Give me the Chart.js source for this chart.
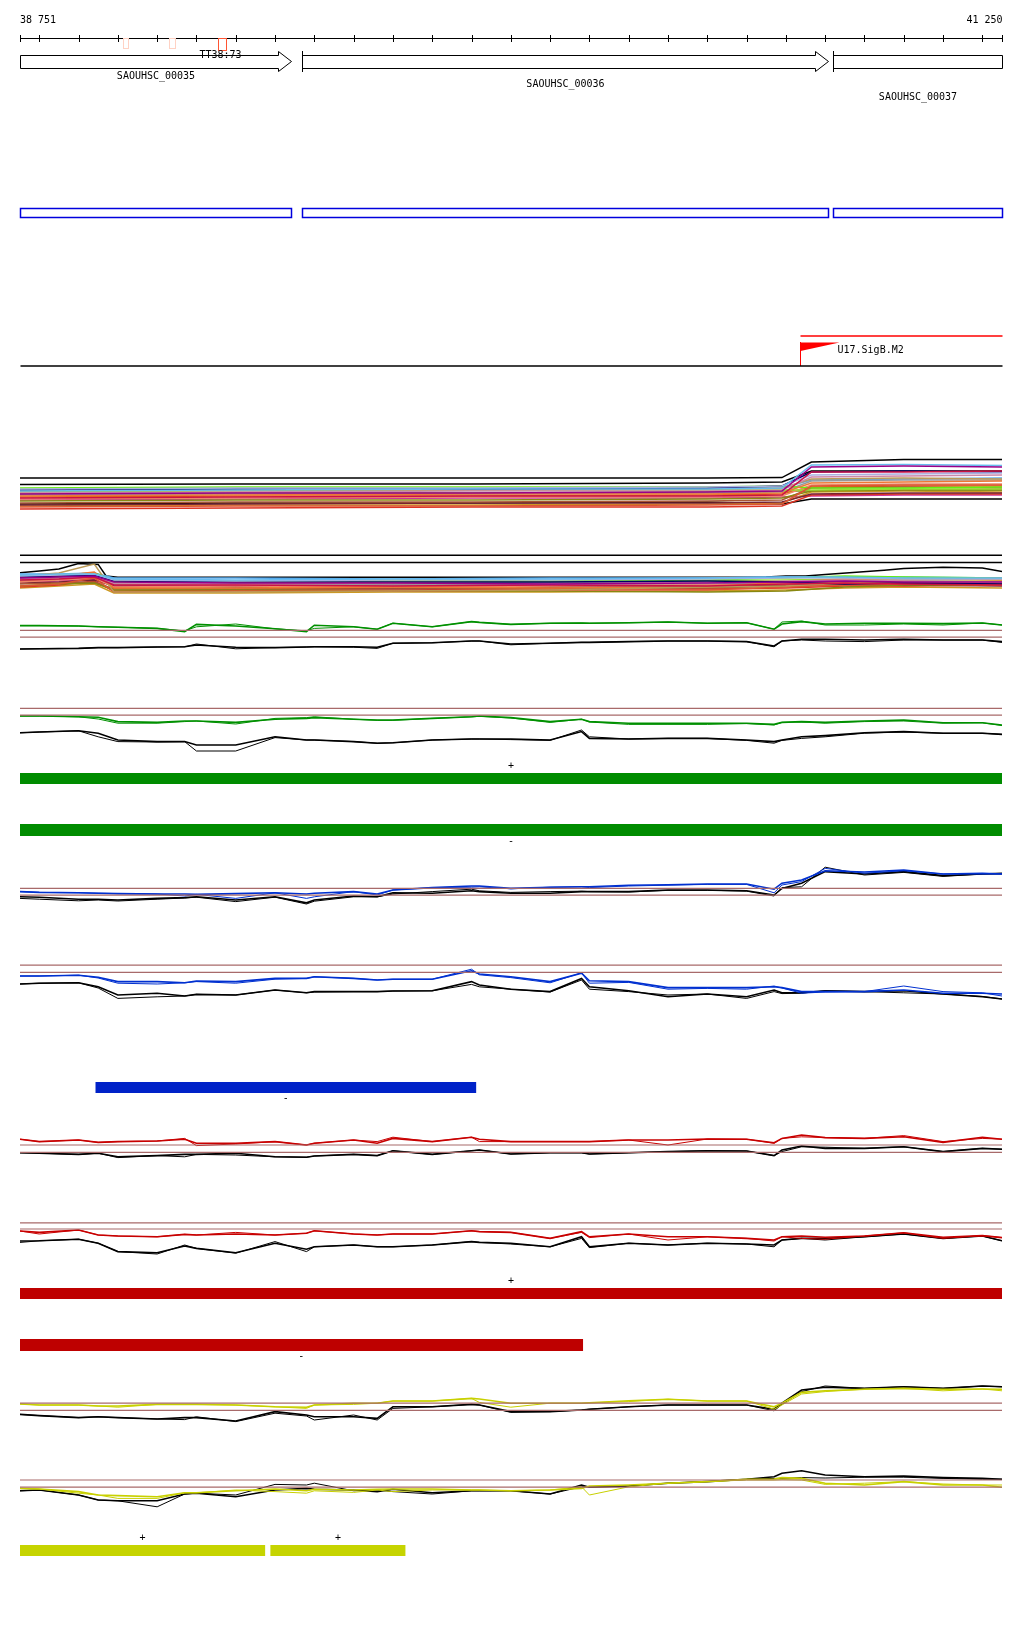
<!DOCTYPE html>
<html>
<head>
<meta charset="utf-8">
<script src="https://cdn.jsdelivr.net/npm/chart.js@4/dist/chart.umd.min.js"></script>
<style>
body{margin:0;background:#fff}
#page{position:relative;width:1024px;height:1640px;overflow:hidden;background:#fff}
canvas{position:absolute;left:0}
</style>
</head>
<body>
<div id="page"></div>
<script>
/* VIEW + FEATURES */

const VIEW_START = 38751;
const VIEW_END = 41250;
const RULER_TICKS = [38751,38800,38900,39000,39100,39200,39300,39400,39500,39600,39700,39800,39900,40000,40100,40200,40300,40400,40500,40600,40700,40800,40900,41000,41100,41200,41250];

const GENE_NAMES = ["SAOUHSC_00035","SAOUHSC_00036","SAOUHSC_00037"];
const GENE_STARTS = [38600, 39468, 40820];
const GENE_ENDS = [39441, 40806, 41500];

const TERM_STARTS = [39013, 39130, 39254];
const TERM_ENDS = [39026, 39145, 39274];
const TERM_NAME = "TT38:73";

const PROMOTER_NAME = "U17.SigB.M2";
const PROMOTER_START = 40736;

const GREEN_PLUS = [[38751, 41250]];
const GREEN_MINUS = [[38751, 41250]];
const BLUE_MINUS = [[38944, 39911]];
const RED_PLUS = [[38751, 41250]];
const RED_MINUS = [[38751, 40183]];
const YELLOW_PLUS = [[38751, 39374], [39389, 39731]];

/* MULTI-SAMPLE TRACKS */

const MULTI_COLORS = ["#990088","#66bbee","#cc1144","#aab0e0","#000066","#cc88aa","#bb9955","#ee7733","#dd5533","#66ee11","#99dd33","#888811","#aa5533","#ee8866","#999999","#772233","#dd3322","#cc9922","#55aaee","#dd6611","#cc3399","#779922"];

const T1_POS = [38751, 39300, 39900, 40500, 40690, 40765, 41000, 41250];
const T1_LINES = [
[5.5,5.75,5.75,6.0,6.25,12.25,12.5,12.25],
[6.25,6.5,6.75,6.75,7.0,12.75,12.9,12.6],
[4.5,4.75,5.0,5.0,5.25,11.0,11.0,11.25],
[6.75,7.0,7.0,7.25,7.5,10.25,10.5,10.75],
[6.5,6.75,6.75,7.0,7.5,11.0,11.25,11.0],
[5.75,6.0,6.25,6.25,6.5,9.75,10.0,10.25],
[6.25,6.5,6.5,6.75,7.0,9.25,9.5,9.25],
[5.0,5.25,5.5,5.5,5.75,8.25,8.5,8.75],
[2.25,2.5,2.5,2.75,3.0,7.5,7.75,7.75],
[7.0,7.25,7.25,7.25,7.5,7.0,7.0,7.25],
[6.0,6.25,6.5,6.5,6.5,6.5,6.75,6.75],
[3.75,4.0,4.0,4.25,4.5,6.25,6.5,6.5],
[3.25,3.5,3.5,3.75,4.0,7.0,7.25,7.0],
[4.25,4.5,4.75,4.75,5.0,7.75,8.0,8.0],
[5.25,5.5,5.5,5.75,6.0,8.75,9.0,9.0],
[2.75,3.0,3.25,3.25,3.5,5.5,5.75,5.75],
[1.75,2.0,2.25,2.25,2.5,5.25,5.5,5.5],
[2.5,2.75,2.75,3.0,3.25,6.0,6.25,6.0],
[6.5,6.6,6.75,6.75,7.0,9.0,9.25,9.5],
[4.75,5.0,5.0,5.25,5.5,7.25,7.5,7.5],
[4.0,4.25,4.5,4.5,4.75,5.0,5.25,5.25],
[5.5,5.75,5.75,6.0,6.25,6.25,6.5,6.5]
];
const T1_BLACK = [
[9.5,9.5,9.5,9.5,9.6,13.5,14.1,14.1],
[7.9,8.0,8.0,8.25,8.5,11.25,11.25,11.25],
[3.0,3.25,3.25,3.5,3.0,4.25,4.25,4.25]
];

const T2_POS = [38751, 38850, 38940, 38990, 39300, 39700, 40100, 40500, 40700, 40850, 41000, 41250];
const T2_LINES = [
[5.5,5.75,6.0,4.5,4.25,4.25,4.0,4.25,4.5,4.75,4.5,4.5],
[6.25,6.5,6.5,5.25,5.0,5.25,5.25,5.5,5.75,5.75,5.5,5.5],
[5.0,5.25,5.75,3.75,3.75,3.5,3.75,3.5,4.0,4.25,4.0,3.75],
[6.0,6.25,6.5,5.0,4.75,5.0,5.0,5.25,5.5,5.5,5.25,5.25],
[5.75,6.0,6.25,4.75,4.5,4.5,4.5,4.75,4.5,4.0,4.25,4.0],
[5.25,5.5,6.0,4.25,4.0,4.25,4.25,4.5,4.75,5.0,4.75,4.5],
[6.0,6.75,9.0,2.0,2.0,2.25,2.5,3.25,3.5,4.25,5.0,5.5],
[5.5,6.0,7.0,3.0,3.0,3.25,3.0,3.25,4.5,5.25,5.25,5.0],
[3.5,4.0,5.5,2.0,2.25,2.25,2.5,2.5,3.25,3.75,4.0,3.75],
[6.0,6.25,6.75,5.0,4.75,5.0,4.75,5.0,5.5,6.0,5.75,5.5],
[5.5,5.75,6.0,4.5,4.25,4.5,4.5,4.75,5.0,5.25,5.25,5.0],
[3.5,4.0,4.25,2.5,2.5,2.25,2.25,2.0,2.25,3.25,3.75,3.75],
[4.0,4.25,4.5,2.75,2.75,2.75,3.0,3.0,3.5,4.0,4.25,4.0],
[4.5,5.0,5.5,3.25,3.5,3.25,3.5,3.75,4.0,4.5,4.5,4.25],
[5.0,5.25,5.5,4.0,4.0,3.75,4.0,4.0,4.25,4.75,4.75,4.5],
[4.25,4.5,5.0,3.5,3.25,3.0,3.25,3.25,3.75,4.0,3.75,3.5],
[3.25,3.75,4.75,2.25,2.5,2.5,2.75,2.75,3.0,3.5,3.5,3.75],
[3.0,3.5,4.0,1.75,1.75,2.0,2.0,2.25,2.5,3.0,3.25,3.0],
[6.5,6.5,6.75,5.5,5.5,5.25,5.5,5.5,5.75,5.75,5.75,5.5],
[4.75,5.25,6.25,3.0,2.75,3.0,3.0,3.0,3.75,4.25,4.5,4.25],
[4.5,4.75,5.25,3.75,3.5,3.75,3.5,3.75,4.0,3.75,3.75,3.75],
[5.25,5.5,5.75,4.25,4.25,4.0,4.25,4.5,4.25,4.5,4.75,4.5]
];
const T2_REF = [11.2, 9.4];
const T2_BLACK_POS = [38751, 38800, 38850, 38900, 38950, 38970, 39000, 39300, 39800, 40300, 40650, 40700, 40750, 40800, 40950, 41000, 41100, 41200, 41250];
const T2_BLACK = [6.8, 7.25, 7.75, 9.1, 8.9, 6.0, 5.7, 5.7, 5.7, 5.7, 5.75, 6.0, 6.0, 6.4, 7.45, 7.9, 8.2, 8.0, 7.1];

/* TWO-SAMPLE TRACKS (shared positions) */

const POS = [38751,38800,38900,38950,39000,39100,39170,39200,39300,39400,39480,39500,39600,39660,39700,39800,39900,39920,40000,40100,40180,40200,40300,40400,40500,40600,40670,40690,40740,40800,40900,41000,41100,41200,41250];

const T3_REF = [6.4, 4.7];
const T3_GREEN_A = [7.6,7.6,7.5,7.3,7.2,6.9,6.1,7.9,7.5,6.8,6.1,7.7,7.3,6.7,8.2,7.3,8.6,8.4,7.9,8.2,8.25,8.2,8.3,8.5,8.2,8.3,6.7,8.0,8.6,8.0,8.2,8.2,8.1,8.25,7.75];
const T3_GREEN_B = [7.6,7.6,7.5,7.3,7.2,6.9,6.3,7.3,8.0,6.8,6.3,6.9,7.3,6.7,8.2,7.3,8.6,8.4,7.9,8.2,8.25,8.2,8.3,8.5,8.2,8.3,6.7,8.5,8.75,7.75,7.75,8.0,7.75,8.25,7.75];
const T3_BLACK_A = [1.75,1.8,1.9,2.1,2.1,2.25,2.3,2.75,2.2,2.1,2.25,2.3,2.3,2.2,3.2,3.3,3.75,3.75,3.0,3.2,3.4,3.4,3.6,3.75,3.75,3.6,2.5,3.75,4.2,4.2,4.0,4.2,4.0,4.0,3.6];
const T3_BLACK_B = [1.75,1.8,1.9,2.1,2.1,2.25,2.3,3.0,1.8,2.1,2.25,2.3,2.2,1.9,3.2,3.3,3.75,3.75,2.8,3.2,3.4,3.4,3.6,3.75,3.75,3.6,2.3,3.75,4.0,3.75,3.6,4.0,4.0,4.0,3.4];

const T4_REF = [12.4, 10.7];
const T4_GREEN_A = [10.5,10.5,10.3,10.2,9.1,8.9,9.25,9.25,8.9,9.7,9.9,10.1,9.7,9.5,9.5,9.9,10.3,10.5,10.1,9.1,9.7,9.1,8.7,8.7,8.7,8.7,8.4,8.9,9.1,8.9,9.25,9.5,8.8,8.8,8.25];
const T4_GREEN_B = [10.5,10.5,10.3,9.75,8.7,8.7,9.1,9.25,8.5,9.9,10.1,10.3,9.7,9.4,9.4,9.9,10.3,10.4,10.0,8.9,9.7,9.0,8.4,8.4,8.4,8.6,8.25,8.9,9.0,8.7,9.1,9.25,8.7,8.8,8.1];
const T4_BLACK_A = [6.3,6.5,6.8,6.2,4.5,4.1,4.1,3.25,3.25,5.3,4.5,4.5,4.1,3.7,3.8,4.5,4.75,4.75,4.75,4.5,6.6,4.9,4.75,4.9,4.9,4.5,4.1,4.5,5.3,5.6,6.3,6.6,6.2,6.2,5.9];
const T4_BLACK_B = [6.3,6.5,6.8,5.3,4.1,4.0,4.1,1.75,1.75,5.1,4.5,4.5,4.1,3.7,3.8,4.5,4.75,4.75,4.6,4.4,7.0,5.3,4.75,4.9,4.9,4.4,3.7,4.4,4.9,5.3,6.2,6.5,6.2,6.2,5.9];

const T5_REF = [5.4, 3.7];
const T5_BLUE_A = [4.6,4.4,4.3,4.2,4.1,4.0,4.0,3.9,4.1,4.3,4.0,4.2,4.6,4.0,5.0,5.6,6.0,6.0,5.4,5.7,5.8,5.8,6.2,6.3,6.5,6.5,5.2,6.7,7.5,9.8,9.5,10.0,9.0,9.2,9.0];
const T5_BLUE_B = [4.6,4.4,4.3,4.2,4.1,4.0,3.5,3.9,2.9,4.3,2.9,3.3,4.6,3.75,5.0,5.6,5.7,5.8,5.3,5.7,5.8,5.6,6.0,6.2,6.4,6.4,4.3,6.25,7.1,10.4,9.2,9.8,9.0,9.0,9.0];
const T5_BLACK_A = [3.3,3.2,2.7,2.7,2.5,2.9,3.1,3.3,2.5,3.3,1.8,2.5,3.5,3.3,4.3,4.2,4.8,4.6,4.2,4.2,4.6,4.6,4.6,5.0,5.0,4.8,3.75,5.4,6.7,9.6,9.0,9.6,8.6,9.0,9.2];
const T5_BLACK_B = [2.9,2.7,2.3,2.5,2.25,2.7,3.0,3.2,2.1,3.2,1.5,2.2,3.3,3.3,4.0,4.6,5.2,4.8,4.4,4.6,4.7,4.6,4.5,4.9,4.9,4.7,3.5,5.6,5.8,10.7,8.75,9.4,8.4,9.0,9.0];

const T6_REF = [9.7, 7.9];
const T6_BLUE_A = [7.0,7.0,7.2,6.7,5.6,5.6,5.3,5.75,5.6,6.4,6.4,6.8,6.4,6.0,6.2,6.2,8.3,7.5,6.8,5.6,7.7,5.8,5.6,4.1,4.1,4.1,4.3,4.1,3.1,3.1,3.1,3.5,2.7,2.7,2.5];
const T6_BLUE_B = [7.0,7.0,7.2,6.5,5.2,5.0,5.3,5.6,5.2,6.2,6.4,6.8,6.4,6.0,6.2,6.2,8.7,7.3,6.6,5.3,7.8,5.2,5.4,3.7,3.9,3.7,4.5,4.0,2.7,3.0,3.1,4.5,3.1,2.8,2.0];
const T6_BLACK_A = [5.0,5.2,5.3,4.3,2.25,2.7,2.0,2.4,2.25,3.5,2.8,3.1,3.1,3.1,3.25,3.3,5.6,4.75,3.7,3.1,6.4,4.3,3.3,1.8,2.5,1.8,3.5,2.8,2.8,3.3,3.1,3.3,2.5,1.8,1.25];
const T6_BLACK_B = [5.0,5.2,5.3,4.0,1.4,1.8,2.0,2.4,2.25,3.5,2.8,3.0,3.1,3.1,3.25,3.3,4.9,4.3,3.7,3.0,6.0,3.7,3.1,2.25,2.5,1.4,3.1,2.6,2.7,3.3,3.1,2.8,2.5,1.9,1.25];

const T7_REF = [4.25, 2.4];
const T7_RED_A = [5.7,5.1,5.5,4.9,5.1,5.25,5.7,4.7,4.7,5.1,4.25,4.7,5.5,4.7,5.9,5.1,6.2,5.7,5.1,5.1,5.1,5.1,5.5,5.5,5.75,5.7,4.8,5.9,6.75,6.1,5.9,6.3,4.9,6.2,5.7];
const T7_RED_B = [5.7,5.1,5.5,4.9,5.1,5.25,5.9,4.1,4.5,5.1,4.25,4.7,5.5,5.1,6.2,5.1,6.2,5.1,5.1,5.1,5.1,5.1,5.5,4.25,5.75,5.7,4.7,5.9,6.3,6.1,5.9,6.6,5.1,5.9,5.7];
const T7_BLACK_A = [2.3,2.2,1.9,2.2,1.3,1.6,1.9,1.9,2.2,1.3,1.2,1.5,1.9,1.6,2.8,1.9,2.8,3.0,2.0,2.3,2.3,2.0,2.3,2.6,2.8,2.75,1.6,3.0,4.0,3.4,3.4,3.8,2.6,3.4,3.2];
const T7_BLACK_B = [2.3,2.2,1.9,2.2,1.1,1.6,1.3,1.9,1.75,1.3,1.2,1.5,1.9,1.6,2.8,1.9,2.8,3.0,2.0,2.3,2.3,2.0,2.3,2.6,2.8,2.75,1.6,2.6,3.8,3.7,3.4,3.8,2.6,3.4,3.2];

const T8_REF = [9.8, 8.25];
const T8_RED_A = [7.75,7.4,8.0,6.75,6.5,6.3,6.9,6.75,7.0,6.75,7.2,7.8,7.0,6.75,7.0,7.0,7.8,7.6,7.4,5.9,7.6,6.3,7.0,6.3,6.3,5.9,5.5,6.3,6.5,6.2,6.5,7.3,6.2,6.6,6.1];
const T8_RED_B = [7.75,7.0,8.0,6.75,6.5,6.3,6.9,6.75,7.4,6.75,7.2,7.8,7.0,6.75,7.0,7.0,7.8,7.6,7.4,5.9,7.4,6.1,7.0,5.5,6.3,5.9,5.25,6.3,5.9,5.7,6.5,7.3,5.9,6.6,6.1];
const T8_BLACK_A = [5.25,5.3,5.7,4.7,2.6,2.3,4.0,3.4,2.3,4.7,3.2,3.8,4.25,3.8,3.8,4.25,5.1,4.9,4.7,3.8,6.3,3.8,4.7,4.25,4.7,4.5,4.25,5.5,5.9,5.9,6.3,7.0,5.9,6.5,5.3];
const T8_BLACK_B = [4.9,5.3,5.7,4.7,2.6,2.0,4.25,3.4,2.2,5.1,2.6,3.8,4.25,3.8,3.8,4.25,5.1,4.9,4.5,3.8,5.9,3.6,4.7,4.25,4.7,4.5,3.8,5.5,5.9,5.5,6.3,7.0,5.9,6.5,5.3];

const T9_REF = [6.7, 4.9];
const T9_YELLOW_A = [6.5,6.25,6.25,6.0,6.0,6.4,6.4,6.4,6.25,5.8,5.7,6.25,6.7,6.7,7.25,7.25,7.9,7.75,6.7,6.7,6.7,6.8,7.3,7.7,7.25,7.25,5.8,6.7,9.4,9.8,10.2,10.4,10.2,10.25,10.2];
const T9_YELLOW_B = [6.5,6.25,6.25,6.0,5.7,6.4,6.4,6.4,6.25,5.8,5.4,6.25,6.4,6.7,7.25,7.25,7.9,6.9,5.7,6.7,6.7,6.8,7.1,7.7,7.25,7.25,5.2,6.25,9.0,9.6,10.2,10.4,9.8,10.25,9.8];
const T9_BLACK_A = [3.9,3.6,3.1,3.3,3.1,2.75,3.1,3.1,2.25,4.6,3.75,3.3,3.3,2.9,5.8,5.8,6.4,6.25,4.6,4.6,5.0,5.2,5.8,6.25,6.25,6.25,5.2,6.7,10.0,10.7,10.4,10.8,10.4,11.0,10.8];
const T9_BLACK_B = [3.9,3.6,3.1,3.3,3.1,2.75,2.6,3.3,2.1,4.2,3.5,2.5,3.75,2.5,5.4,5.8,6.4,6.25,4.4,4.6,5.0,5.2,5.8,6.25,6.25,6.25,4.8,6.4,9.6,11.0,10.4,10.8,10.4,11.0,10.8];

const T10_REF = [8.0, 6.2];
const T10_YELLOW_A = [5.9,5.75,5.1,4.25,4.1,3.8,4.8,4.8,5.3,5.75,5.3,5.7,5.5,5.7,5.75,5.75,5.5,5.5,5.3,5.5,5.9,6.5,6.75,7.2,7.6,8.2,8.25,8.6,8.4,7.2,6.75,7.6,6.75,6.75,6.2];
const T10_YELLOW_B = [5.9,5.75,4.7,4.25,3.4,3.4,4.8,4.8,5.5,5.1,4.7,5.3,4.9,5.5,5.1,5.5,5.5,5.5,5.3,5.5,6.3,4.25,6.3,7.2,7.6,8.0,8.0,8.1,8.0,6.9,7.2,7.6,7.0,6.75,6.75];
const T10_BLACK_A = [5.3,5.5,4.25,3.0,2.8,2.8,4.5,4.7,3.8,5.5,5.9,5.7,5.5,5.1,5.7,4.8,5.3,5.3,5.3,4.5,6.75,6.2,6.5,7.2,7.6,8.2,8.8,9.7,10.3,9.25,8.8,9.0,8.6,8.4,8.2];
const T10_BLACK_B = [5.3,5.5,4.25,3.0,2.8,1.3,4.5,4.7,4.25,6.9,6.75,7.2,5.3,5.5,5.1,4.5,5.3,5.3,5.3,4.5,6.3,6.2,6.5,7.2,7.6,8.2,8.4,8.4,8.6,8.5,8.7,8.7,8.4,8.2,8.2];

/* STYLE + LAYOUT */

const FONT = '10px "DejaVu Sans Mono", "Liberation Mono", monospace';
const REF_COLOR = "#a86a6a";
const GREEN_LINE = "#009000", BLUE_LINE = "#0030d0", RED_LINE = "#c80000", YELLOW_LINE = "#c8d000";
const GREEN_BAR = "#008c00", BLUE_BAR = "#0022c8", RED_BAR = "#be0000", YELLOW_BAR = "#c6d400";
const GENE_LABEL_Y = [76, 84.5, 97.5];

Chart.defaults.animation = false;
Chart.defaults.responsive = false;
Chart.defaults.devicePixelRatio = 1;
Chart.defaults.events = [];
Chart.defaults.plugins.legend.display = false;
Chart.defaults.plugins.tooltip.enabled = false;

const page = document.getElementById("page");

function addCanvas(top, height){
const c = document.createElement("canvas");
c.width = 1024; c.height = height;
c.style.top = top + "px";
c.style.width = "1024px"; c.style.height = height + "px";
page.appendChild(c);
return c;
}

function xScale(){
return { type:"linear", min:VIEW_START, max:VIEW_END, display:false };
}

function fmt(n){
return String(n).replace(/\B(?=(\d{3})+(?!\d))/g, " ");
}

/* ANNOTATION AREA */

const annotPlugin = {
id:"annot",
afterDraw(chart){
const ctx = chart.ctx, xs = chart.scales.x;
const px = v => Math.round(xs.getPixelForValue(Math.max(VIEW_START, Math.min(VIEW_END, v)))) + 0.5;
const line = (x1,y1,x2,y2) => { ctx.beginPath(); ctx.moveTo(x1,y1); ctx.lineTo(x2,y2); ctx.stroke(); };

ctx.save();
ctx.font = FONT;
ctx.fillStyle = "#000";
ctx.strokeStyle = "#000";
ctx.lineWidth = 1;
ctx.textBaseline = "middle";

// ruler
ctx.textAlign = "left"; ctx.fillText(fmt(VIEW_START), px(VIEW_START) - 0.5, 20);
ctx.textAlign = "right"; ctx.fillText(fmt(VIEW_END), px(VIEW_END), 20);
line(px(VIEW_START), 38.5, px(VIEW_END), 38.5);
RULER_TICKS.forEach(t => line(px(t), 35, px(t), 42));

// terminators
TERM_STARTS.forEach((s,i) => {
const last = i === TERM_STARTS.length - 1;
ctx.strokeStyle = last ? "#ff5533" : "#ffd2c4";
ctx.strokeRect(px(s), 38.5, px(TERM_ENDS[i]) - px(s), last ? 12 : 10);
});
ctx.strokeStyle = "#000";

// genes
GENE_NAMES.forEach((name,i) => {
const s = px(GENE_STARTS[i]), e = px(GENE_ENDS[i]);
ctx.beginPath();
if (GENE_ENDS[i] <= VIEW_END){
const h = e - 13;
ctx.moveTo(s,55.5); ctx.lineTo(h,55.5); ctx.lineTo(h,51.5); ctx.lineTo(e,61.5);
ctx.lineTo(h,71.5); ctx.lineTo(h,68.5); ctx.lineTo(s,68.5); ctx.closePath();
} else {
ctx.rect(s,55.5,e-s,13);
}
ctx.fillStyle = "#fff"; ctx.fill();
ctx.stroke();
if (GENE_STARTS[i] >= VIEW_START) line(s,51,s,72);
ctx.fillStyle = "#000";
ctx.textAlign = "center";
ctx.fillText(name, (s+e)/2, GENE_LABEL_Y[i]);
});
ctx.textAlign = "center";
ctx.fillText(TERM_NAME, (px(TERM_STARTS[2]) + px(TERM_ENDS[2]))/2 - 2, 55);

// CDS outlines
ctx.strokeStyle = "#0000dd";
ctx.lineWidth = 1.5;
GENE_NAMES.forEach((name,i) => {
const s = px(GENE_STARTS[i]), e = px(GENE_ENDS[i]);
ctx.strokeRect(s, 208.5, e - s, 9);
});

// promoter
const p = px(PROMOTER_START);
ctx.strokeStyle = "#ff0000";
ctx.lineWidth = 1.5;
line(p, 336, px(VIEW_END), 336);
ctx.lineWidth = 1;
line(p, 342, p, 366);
ctx.fillStyle = "#ff0000";
ctx.beginPath(); ctx.moveTo(p,342.5); ctx.lineTo(p+39,342.5); ctx.lineTo(p,351); ctx.closePath(); ctx.fill();
ctx.fillStyle = "#000";
ctx.textAlign = "left";
ctx.fillText(PROMOTER_NAME, p + 37, 350);

ctx.strokeStyle = "#000";
ctx.lineWidth = 1.5;
line(px(VIEW_START), 366, px(VIEW_END), 366);
ctx.restore();
}
};

new Chart(addCanvas(0, 372), {
type:"line",
data:{ datasets:[] },
options:{
layout:{ padding:{ left:20, right:22, top:0, bottom:0 } },
scales:{ x:xScale(), y:{ type:"linear", min:0, max:1, display:false } }
},
plugins:[annotPlugin]
});

/* LINE TRACKS */

function series(pos, values, color, width){
return {
data: pos.map((p,i) => ({ x:p, y:values[i] })),
borderColor: color, borderWidth: width, pointRadius: 0, tension: 0, fill: false
};
}

function refLines(vals){
return vals.map(v => series([VIEW_START, VIEW_END], [v, v], REF_COLOR, 1.2));
}

function lineTrack(top, height, ymax, datasets){
new Chart(addCanvas(top, height), {
type:"line",
data:{ datasets },
options:{
layout:{ padding:{ left:20, right:22, top:0, bottom:0 } },
scales:{ x:xScale(), y:{ type:"linear", min:0, max:ymax, display:false } }
}
});
}

function pairTrack(top, height, ymax, refs, colA, colB, blkA, blkB, color){
lineTrack(top, height, ymax, [
...refLines(refs),
series(POS, colB, color, 1),
series(POS, colA, color, 1.6),
series(POS, blkB, "#000", 1),
series(POS, blkA, "#000", 1.6)
]);
}

lineTrack(452, 64, 16, [
...T1_LINES.map((v,i) => series(T1_POS, v, MULTI_COLORS[i], 1.5)),
...T1_BLACK.map(v => series(T1_POS, v, "#000", 1.5))
]);

lineTrack(548, 52, 13, [
...T2_REF.map(v => series([VIEW_START, VIEW_END], [v, v], "#000", 1.5)),
...T2_LINES.map((v,i) => series(T2_POS, v, MULTI_COLORS[i], 1.5)),
series(T2_BLACK_POS, T2_BLACK, "#000", 1.5)
]);

pairTrack(612, 44, 11, T3_REF, T3_GREEN_A, T3_GREEN_B, T3_BLACK_A, T3_BLACK_B, GREEN_LINE);
pairTrack(698, 60, 15, T4_REF, T4_GREEN_A, T4_GREEN_B, T4_BLACK_A, T4_BLACK_B, GREEN_LINE);
pairTrack(860, 50, 12.5, T5_REF, T5_BLUE_A, T5_BLUE_B, T5_BLACK_A, T5_BLACK_B, BLUE_LINE);
pairTrack(956, 48, 12, T6_REF, T6_BLUE_A, T6_BLUE_B, T6_BLACK_A, T6_BLACK_B, BLUE_LINE);
pairTrack(1126, 36, 9, T7_REF, T7_RED_A, T7_RED_B, T7_BLACK_A, T7_BLACK_B, RED_LINE);
pairTrack(1214, 48, 12, T8_REF, T8_RED_A, T8_RED_B, T8_BLACK_A, T8_BLACK_B, RED_LINE);
pairTrack(1378, 52, 13, T9_REF, T9_YELLOW_A, T9_YELLOW_B, T9_BLACK_A, T9_BLACK_B, YELLOW_LINE);
pairTrack(1464, 48, 12, T10_REF, T10_YELLOW_A, T10_YELLOW_B, T10_BLACK_A, T10_BLACK_B, YELLOW_LINE);

/* SEGMENT BARS */

const strandPlugin = {
id:"strand",
afterDatasetsDraw(chart, args, opts){
const ctx = chart.ctx, xs = chart.scales.x, area = chart.chartArea;
ctx.save();
ctx.font = FONT;
ctx.fillStyle = "#000";
ctx.textAlign = "center";
ctx.textBaseline = "middle";
opts.segments.forEach(s => {
const cx = xs.getPixelForValue((s[0] + s[1]) / 2);
const y = opts.label === "+" ? area.top - 7 : area.bottom + 5;
ctx.fillText(opts.label, cx, y);
});
ctx.restore();
}
};

function barTrack(top, height, padTop, padBottom, segments, color, label){
new Chart(addCanvas(top, height), {
type:"bar",
data:{
labels:["s"],
datasets: segments.map(s => ({
data:[s], backgroundColor:color, borderWidth:0,
barPercentage:1, categoryPercentage:1, grouped:false
}))
},
options:{
indexAxis:"y",
layout:{ padding:{ left:20, right:22, top:padTop, bottom:padBottom } },
scales:{ x:xScale(), y:{ display:false } },
plugins:{ strand:{ segments, label } }
},
plugins:[strandPlugin]
});
}

barTrack(760, 24, 13, 0, GREEN_PLUS, GREEN_BAR, "+");
barTrack(824, 24, 0, 12, GREEN_MINUS, GREEN_BAR, "-");
barTrack(1082, 23, 0, 12, BLUE_MINUS, BLUE_BAR, "-");
barTrack(1274, 25, 14, 0, RED_PLUS, RED_BAR, "+");
barTrack(1339, 24, 0, 12, RED_MINUS, RED_BAR, "-");
barTrack(1530, 26, 15, 0, YELLOW_PLUS, YELLOW_BAR, "+");
</script>
</body>
</html>
